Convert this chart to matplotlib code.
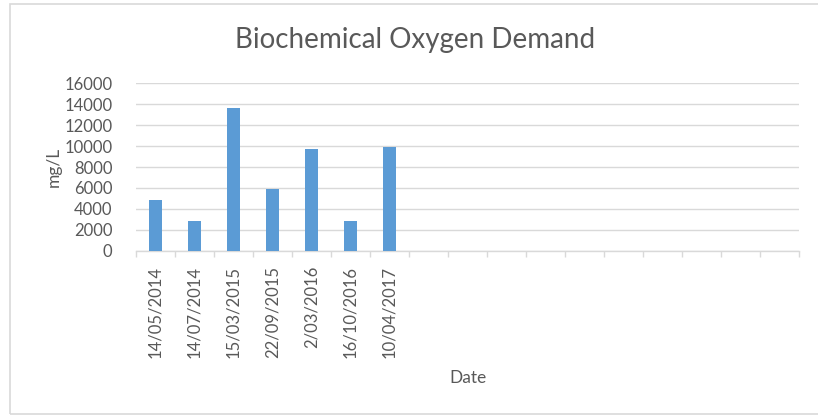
import matplotlib.pyplot as plt
import numpy as np

# Categories (Excel sheet had 17 rows, only 7 filled)
dates = ['14/05/2014', '14/07/2014', '15/03/2015', '22/09/2015',
         '2/03/2016', '16/10/2016', '10/04/2017']
bod = [4800, 2800, 13600, 5900, 9700, 2800, 9900]
n_cats = 17

labels = dates + [''] * (n_cats - len(dates))
values = bod + [np.nan] * (n_cats - len(bod))

plt.rcParams['font.family'] = ['Lato', 'DejaVu Sans']
text_col = '#595959'
grid_col = '#d9d9d9'

fig = plt.figure(figsize=(8.18, 4.15), dpi=100)
W, H = 818, 415
ax = fig.add_axes([136 / W, 1 - 250.7 / H, (799 - 136) / W, (250.7 - 83.3) / H])

x = np.arange(n_cats)
ax.bar(x, values, width=0.32, color='#5B9BD5', zorder=3)

ax.set_xlim(-0.5, n_cats - 0.5)
ax.set_ylim(0, 16000)
ax.set_yticks(np.arange(0, 16001, 2000))
ax.yaxis.grid(True, color=grid_col, linewidth=1, zorder=0)

ax.set_xticks(x)
ax.set_xticklabels(labels, rotation=90, color=text_col, fontsize=12)
ax.set_xticks(np.arange(-0.5, n_cats, 1), minor=True)
ax.tick_params(axis='x', which='major', length=0, pad=11)
ax.tick_params(axis='x', which='minor', length=4, color=grid_col, width=1)
ax.tick_params(axis='y', length=0, labelcolor=text_col, labelsize=12, pad=17)

for s in ['top', 'right', 'left']:
    ax.spines[s].set_visible(False)
ax.spines['bottom'].set_color(grid_col)
ax.spines['bottom'].set_linewidth(1)

fig.text(415 / W, 1 - 40 / H, 'Biochemical Oxygen Demand', ha='center', va='center',
         fontsize=20, color=text_col)
fig.text(468 / W, 1 - 378 / H, 'Date', ha='center', va='center', fontsize=12.5, color=text_col)
fig.text(54 / W, 1 - 167 / H, 'mg/L', ha='center', va='center', rotation=90,
         fontsize=12.5, color=text_col)

# chart area border
fig.add_artist(plt.Rectangle((10 / W, 1 / H), (W + 20) / W, (410) / H,
                             transform=fig.transFigure, fill=False,
                             edgecolor=grid_col, linewidth=1.2))

fig.savefig('out.png', dpi=100)
